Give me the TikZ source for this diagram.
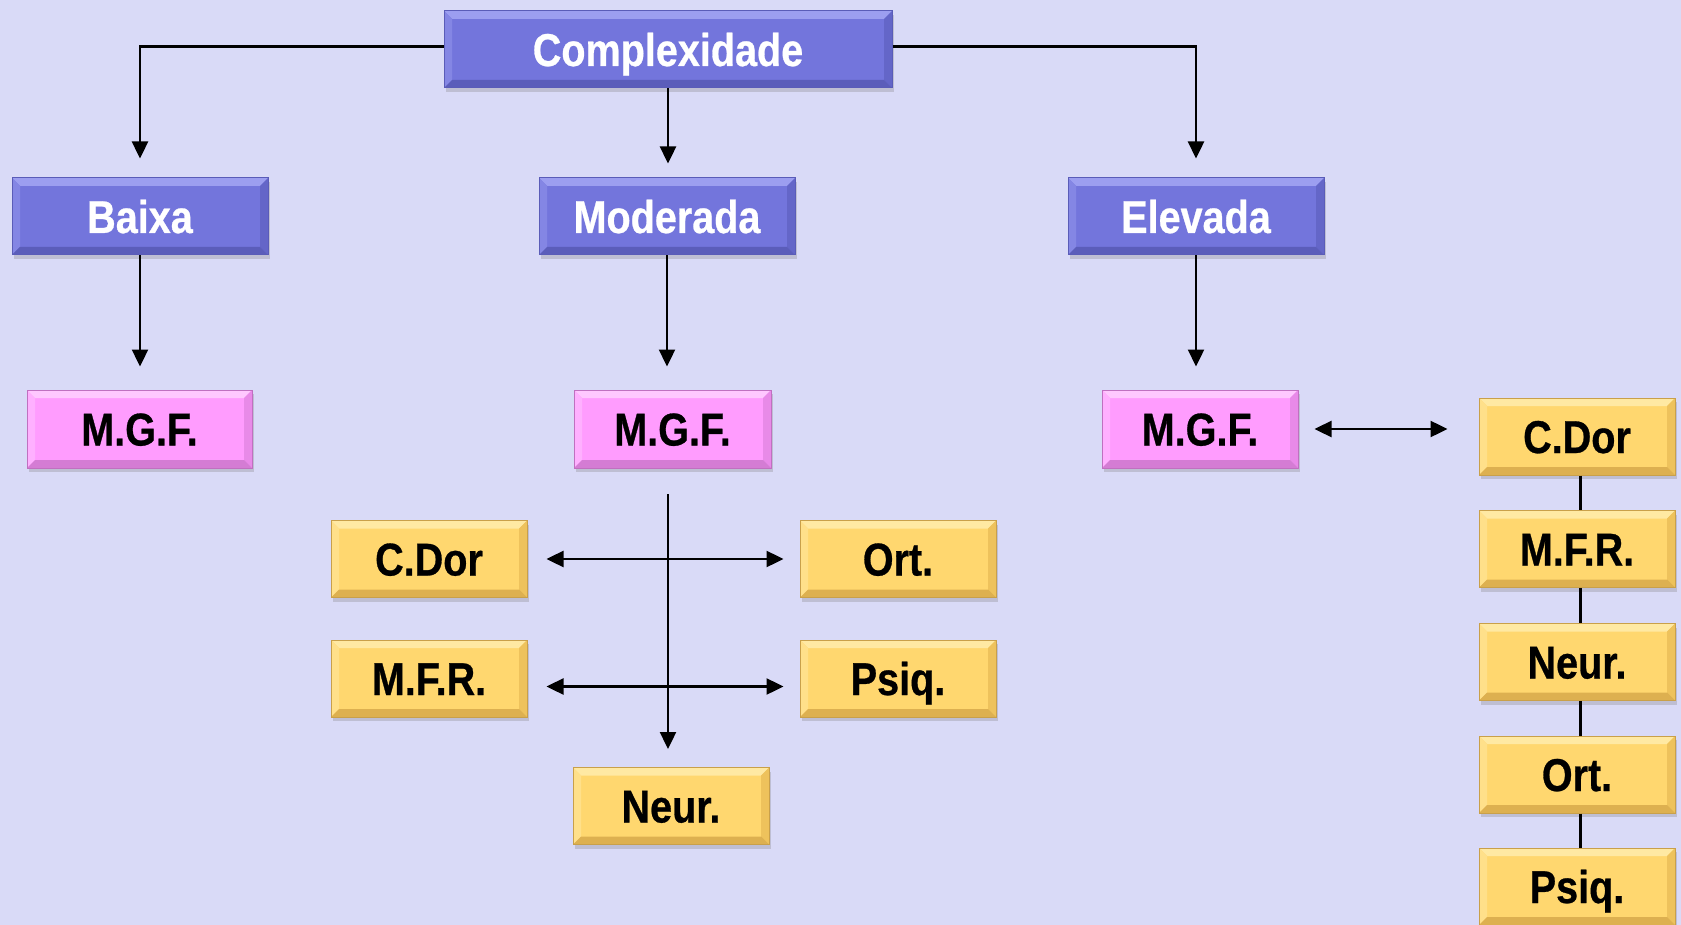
\documentclass[tikz,border=0pt]{standalone}
\usepackage{fontspec}
\newfontfamily\boxfont{Liberation Sans}[FakeStretch=0.86,FakeBold=0.6]
\usetikzlibrary{arrows.meta,shadows}
\definecolor{bg}{HTML}{D9DAF7}
\definecolor{pfill}{HTML}{7375DC}
\definecolor{plight}{HTML}{9C9EF0}
\definecolor{pleft}{HTML}{8486E4}
\definecolor{pright}{HTML}{6466C8}
\definecolor{pdark}{HTML}{5B5DBA}
\definecolor{pdraw}{HTML}{5A5CB8}
\definecolor{mfill}{HTML}{FF9CFE}
\definecolor{mlight}{HTML}{FFC8FF}
\definecolor{mleft}{HTML}{FFB0FF}
\definecolor{mright}{HTML}{E88AE8}
\definecolor{mdark}{HTML}{D47CD4}
\definecolor{mdraw}{HTML}{C070C0}
\definecolor{yfill}{HTML}{FFD76F}
\definecolor{ylight}{HTML}{FFE9A3}
\definecolor{yleft}{HTML}{FFE08A}
\definecolor{yright}{HTML}{EEC25C}
\definecolor{ydark}{HTML}{DDB050}
\definecolor{ydraw}{HTML}{C9A04A}
\newcommand\bevelpic[4]{%
 \fill[#1] (path picture bounding box.north west) -- (path picture bounding box.north east)
   -- ([shift={(-8pt,-8pt)}]path picture bounding box.north east) -- ([shift={(8pt,-8pt)}]path picture bounding box.north west) -- cycle;
 \fill[#2] (path picture bounding box.north west) -- ([shift={(8pt,-8pt)}]path picture bounding box.north west)
   -- ([shift={(8pt,8pt)}]path picture bounding box.south west) -- (path picture bounding box.south west) -- cycle;
 \fill[#3] (path picture bounding box.north east) -- ([shift={(-8pt,-8pt)}]path picture bounding box.north east)
   -- ([shift={(-8pt,8pt)}]path picture bounding box.south east) -- (path picture bounding box.south east) -- cycle;
 \fill[#4] (path picture bounding box.south west) -- ([shift={(8pt,8pt)}]path picture bounding box.south west)
   -- ([shift={(-8pt,8pt)}]path picture bounding box.south east) -- (path picture bounding box.south east) -- cycle;
}
\tikzset{
  box/.style={minimum height=77pt, inner sep=0pt, line width=1pt,
    text height=33pt, text depth=0pt,
    font=\boxfont\bfseries\fontsize{46}{52}\selectfont,
    drop shadow={shadow xshift=2pt,shadow yshift=-4pt,opacity=0.3}},
  purplebox/.style={box, fill=pfill, draw=pdraw, text=white,
    path picture={\bevelpic{plight}{pleft}{pright}{pdark}}},
  pinkbox/.style={box, fill=mfill, draw=mdraw, text=black,
    path picture={\bevelpic{mlight}{mleft}{mright}{mdark}}},
  yellowbox/.style={box, fill=yfill, draw=ydraw, text=black, minimum width=196pt,
    path picture={\bevelpic{ylight}{yleft}{yright}{ydark}}},
  arr/.style={line width=2.4pt, -{Triangle[length=17pt,width=16pt]}},
  darr/.style={line width=2.4pt, {Triangle[length=17pt,width=16pt]}-{Triangle[length=17pt,width=16pt]}},
  chain/.style={line width=3pt}
}
\begin{document}
\begin{tikzpicture}[x=1pt,y=-1pt]
\fill[bg] (0,0) rectangle (1681,925);
\useasboundingbox (0,0) rectangle (1681,925);

\node[purplebox, minimum width=448pt] (comp) at (668,49.5) {Complexidade};
\node[purplebox, minimum width=256pt] (baixa) at (140,216.5) {Baixa};
\node[purplebox, minimum width=256pt] (moder) at (667,216.5) {Moderada};
\node[purplebox, minimum width=256pt] (elev) at (1196,216.5) {Elevada};

\node[pinkbox, minimum width=225pt, minimum height=78pt] (mgfA) at (139.5,429) {M.G.F.};
\node[pinkbox, minimum width=197pt, minimum height=78pt] (mgfB) at (672.5,429) {M.G.F.};
\node[pinkbox, minimum width=196pt, minimum height=78pt] (mgfC) at (1200,429) {M.G.F.};

\node[yellowbox] (cdorL) at (429,559) {C.Dor};
\node[yellowbox] (mfrL) at (429,678.5) {M.F.R.};
\node[yellowbox] (ortM) at (898,559) {Ort.};
\node[yellowbox] (psiqM) at (898,678.5) {Psiq.};
\node[yellowbox] (neurM) at (671,806) {Neur.};

\node[yellowbox] (cdorR) at (1577,436.5) {C.Dor};
\node[yellowbox] (mfrR) at (1577,549) {M.F.R.};
\node[yellowbox] (neurR) at (1577,662) {Neur.};
\node[yellowbox] (ortR) at (1577,774.5) {Ort.};
\node[yellowbox] (psiqR) at (1577,886.5) {Psiq.};

% top level
\draw[arr, shorten >=19pt] ([yshift=3pt]comp.west) -| (baixa.north);
\draw[arr, shorten >=19pt] ([yshift=3pt]comp.east) -| (elev.north);
\draw[arr, shorten >=14pt] (comp.south) -- (comp.south |- moder.north);

% second level
\draw[arr, shorten >=23pt] (baixa.south) -- (baixa.south |- mgfA.north);
\draw[arr, shorten >=23pt] (moder.south) -- (moder.south |- mgfB.north);
\draw[arr, shorten >=23pt] (elev.south) -- (elev.south |- mgfC.north);

% moderada branch
\coordinate (vtop) at (668,494);
\draw[arr, shorten >=18pt] (vtop) -- (vtop |- neurM.north);
\draw[darr, shorten <=19pt, shorten >=16pt] (cdorL.east) -- (ortM.west);
\draw[darr, shorten <=19pt, shorten >=16pt] ([yshift=-8pt]mfrL.east) -- ([yshift=-8pt]psiqM.west);

% elevada branch
\draw[darr, shorten <=16pt, shorten >=31pt] (mgfC.east) -- (mgfC.east -| cdorR.west);
\draw[chain] ([xshift=3pt]cdorR.south) -- ([xshift=3pt]mfrR.north);
\draw[chain] ([xshift=3pt]mfrR.south) -- ([xshift=3pt]neurR.north);
\draw[chain] ([xshift=3pt]neurR.south) -- ([xshift=3pt]ortR.north);
\draw[chain] ([xshift=3pt]ortR.south) -- ([xshift=3pt]psiqR.north);
\end{tikzpicture}
\end{document}
